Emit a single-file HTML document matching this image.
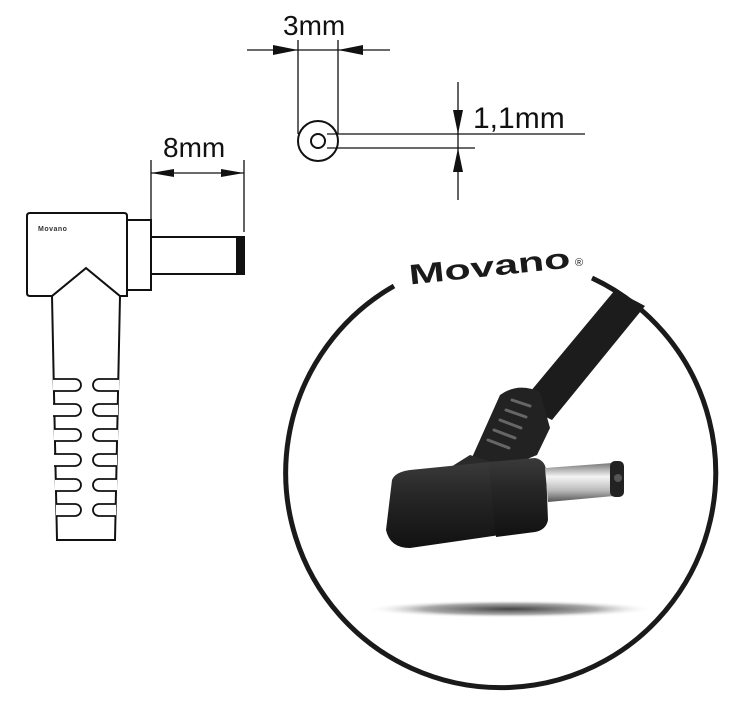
<!DOCTYPE html>
<html><head><meta charset="utf-8"><style>
html,body{margin:0;padding:0;background:#fff;}
svg{display:block}
text{font-family:"Liberation Sans",sans-serif;}
</style></head><body>
<svg width="748" height="705" viewBox="0 0 748 705" xmlns="http://www.w3.org/2000/svg">
<defs>
<radialGradient id="sh" cx="0.5" cy="0.5" r="0.5">
<stop offset="0" stop-color="#444"/><stop offset="0.6" stop-color="#aaa"/><stop offset="1" stop-color="#fff" stop-opacity="0"/>
</radialGradient>
<linearGradient id="pin" x1="0" y1="0" x2="0" y2="1">
<stop offset="0" stop-color="#777"/><stop offset="0.35" stop-color="#f4f4f4"/><stop offset="0.7" stop-color="#bbb"/><stop offset="1" stop-color="#555"/>
</linearGradient>
<linearGradient id="plug" x1="0" y1="0" x2="0" y2="1">
<stop offset="0" stop-color="#3a3a3a"/><stop offset="0.4" stop-color="#262626"/><stop offset="1" stop-color="#111"/>
</linearGradient>
</defs>
<g stroke="#111" fill="none" stroke-width="1.3">
<line x1="298" y1="40" x2="298" y2="134"/>
<line x1="338" y1="40" x2="338" y2="134"/>
<line x1="247" y1="50" x2="390" y2="50"/>
<circle cx="318" cy="141" r="20" stroke-width="2"/>
<circle cx="318" cy="141" r="7" stroke-width="2"/>
<line x1="327" y1="134" x2="585" y2="134"/>
<line x1="327" y1="148" x2="475" y2="148"/>
<line x1="458" y1="82" x2="458" y2="200"/>
<line x1="151" y1="160" x2="151" y2="220"/>
<line x1="244" y1="160" x2="244" y2="232"/>
<line x1="151" y1="173" x2="244" y2="173"/>
</g>
<g fill="#111">
<polygon points="298,50 273,45 273,55"/>
<polygon points="338,50 363,45 363,55"/>
<polygon points="458,134 453,110 463,110"/>
<polygon points="458,148 453,172 463,172"/>
<polygon points="151,173 174,169 174,177"/>
<polygon points="244,173 221,169 221,177"/>
</g>
<text x="283" y="35" font-size="28" fill="#111">3mm</text>
<text x="473" y="128" font-size="30" fill="#111">1,1mm</text>
<text x="163" y="157" font-size="28" fill="#111">8mm</text>
<g stroke="#111" stroke-width="2" fill="#fff">
<rect x="127" y="220" width="24" height="70"/>
<rect x="151" y="237" width="93" height="37"/>
<rect x="237" y="237" width="7" height="37" fill="#111"/>
<path d="M57,540 L52,296 L86,268 L120,296 L115,540 Z"/>
<path d="M30,213 H124 Q127,213 127,216 V296 H120 L86,268 L52,296 H30 Q27,296 27,293 V216 Q27,213 30,213 Z"/>
</g>
<text x="38" y="231" font-size="7" fill="#333" font-weight="bold" letter-spacing="0.5">Movano</text>
<g stroke="#111" stroke-width="1.8" fill="#fff">
<path d="M53,379 H75 A6,6 0 0 1 75,391 H53"/>
<path d="M119,379 H99 A6,6 0 0 0 99,391 H119"/>
<path d="M53,404 H75 A6,6 0 0 1 75,416 H53"/>
<path d="M118,404 H99 A6,6 0 0 0 99,416 H118"/>
<path d="M54,429 H75 A6,6 0 0 1 75,441 H54"/>
<path d="M118,429 H99 A6,6 0 0 0 99,441 H118"/>
<path d="M54,454 H75 A6,6 0 0 1 75,466 H54"/>
<path d="M117,454 H99 A6,6 0 0 0 99,466 H117"/>
<path d="M55,479 H75 A6,6 0 0 1 75,491 H55"/>
<path d="M117,479 H99 A6,6 0 0 0 99,491 H117"/>
<path d="M56,504 H75 A6,6 0 0 1 75,516 H56"/>
<path d="M116,504 H99 A6,6 0 0 0 99,516 H116"/>
</g>
<path d="M394,286 A215,215 0 1 0 592,278" stroke="#1a1a1a" stroke-width="5" fill="none"/>
<text x="408" y="276" font-size="28" font-weight="bold" fill="#1a1a1a" transform="rotate(-6 490 262)" textLength="162" lengthAdjust="spacingAndGlyphs">Movano</text>
<text x="575" y="266" font-size="11" fill="#1a1a1a">®</text>
<ellipse cx="510" cy="609" rx="145" ry="9" fill="url(#sh)"/>
<path d="M615,290 L645,306 L552,420 L520,404 Z" fill="#1c1c1c"/>
<path d="M470,462 L500,395 Q518,382 540,392 L550,428 L537,455 L500,470 Z" fill="#222"/>
<g stroke="#666" stroke-width="3" stroke-linecap="round">
<line x1="512" y1="400" x2="530" y2="406"/>
<line x1="506" y1="410" x2="526" y2="417"/>
<line x1="500" y1="420" x2="521" y2="428"/>
<line x1="494" y1="430" x2="515" y2="438"/>
<line x1="488" y1="440" x2="509" y2="448"/>
</g>
<path d="M430,480 L470,455 L500,465 L470,485 Z" fill="#2a2a2a"/>
<path d="M392,480 Q395,472 410,470 L490,462 L500,535 L410,548 Q390,548 386,530 Z" fill="url(#plug)"/>
<path d="M488,462 L535,458 Q545,460 546,470 L548,520 Q546,530 535,532 L496,537 Z" fill="url(#plug)"/>
<path d="M545,468 L612,463 L614,496 L548,502 Z" fill="url(#pin)"/>
<rect x="610" y="461" width="14" height="36" rx="5" fill="#222"/>
<circle cx="618" cy="478" r="4" fill="#555"/>
</svg>
</body></html>
